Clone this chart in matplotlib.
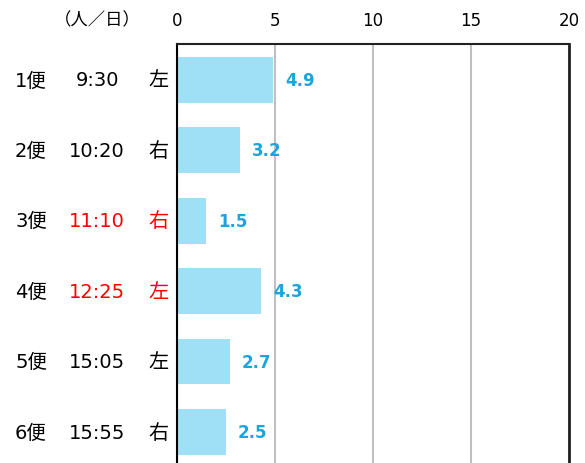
import matplotlib
matplotlib.use('Agg')
import matplotlib.pyplot as plt

plt.rcParams['font.family'] = ['DejaVu Sans', 'Noto Sans CJK JP']

# 便ごとの利用者数
flights = ['1便', '2便', '3便', '4便', '5便', '6便']
times = ['9:30', '10:20', '11:10', '12:25', '15:05', '15:55']
sides = ['左', '右', '右', '左', '左', '右']
values = [4.9, 3.2, 1.5, 4.3, 2.7, 2.5]
highlight = [False, False, True, True, False, False]
xticks = [0, 5, 10, 15, 20]

fig = plt.figure(figsize=(5.85, 4.64), dpi=100)
ax = fig.add_axes([177 / 585, 0, 392 / 585, 419 / 464])

y = list(range(len(values)))
ax.barh(y, values, height=0.65, color='#a0e0f7', zorder=2)

for i, v in enumerate(values):
    ax.text(v + 0.6, i, f'{v:.1f}', color='#1aa5e0', fontsize=12,
            fontweight='bold', va='center', ha='left', zorder=3)

ax.set_xlim(0, 20)
ax.set_ylim(5.44, -0.51)
ax.set_xticks(xticks)
ax.xaxis.tick_top()
ax.tick_params(axis='x', length=0, labelsize=12, pad=11)
ax.set_yticks([])
ax.xaxis.grid(True, color='#c0c0c0', linewidth=1.5, zorder=0)

ax.spines['bottom'].set_visible(False)
ax.spines['left'].set_color('black')
ax.spines['left'].set_linewidth(1.5)
ax.spines['top'].set_color('#222222')
ax.spines['right'].set_color('#222222')
ax.spines['top'].set_linewidth(1.5)
ax.spines['right'].set_linewidth(2)

# 左側の便・時刻・座席ラベル
tr = ax.get_yaxis_transform()
for i in y:
    c = 'red' if highlight[i] else 'black'
    ax.text(-146 / 392, i, flights[i], transform=tr, ha='center', va='center',
            fontsize=14, color='black')
    ax.text(-80 / 392, i, times[i], transform=tr, ha='center', va='center',
            fontsize=14, color=c)
    ax.text(-19 / 392, i, sides[i], transform=tr, ha='center', va='center',
            fontsize=14.5, color=c)

fig.text(97 / 585, 1 - 20 / 464, '（人／日）', ha='center', va='center',
         fontsize=12.5)

fig.savefig('out.png', dpi=100)
